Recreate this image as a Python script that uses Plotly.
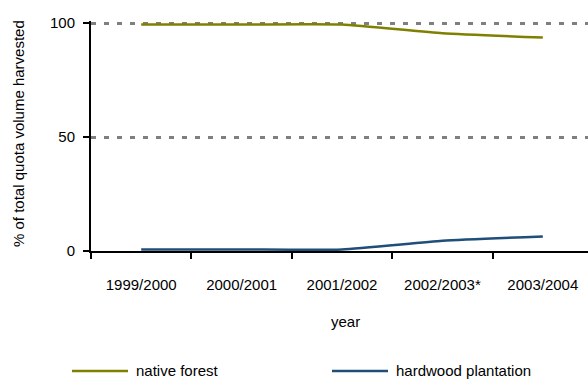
import plotly.graph_objects as go

# Harvest share by source, per season
years = ["1999/2000", "2000/2001", "2001/2002", "2002/2003*", "2003/2004"]
native_forest = [99.3, 99.3, 99.3, 95.5, 93.6]
hardwood_plantation = [0.7, 0.7, 0.7, 4.5, 6.4]
series_names = ["native forest", "hardwood plantation"]
y_ticks = [0, 50, 100]

W, H = 588, 380
L, R, T, B = 91, 0, 21, 129
PW, PH = W - L - R, H - T - B
Y_TOP = 100 * PH / (PH - 2)  # a little headroom so the 100 gridline is drawn
FONT = "Liberation Sans, Arial, sans-serif"
colors = ["#808000", "#1f4e79"]


def px_x(px):
    return (px - L) / PW


def px_y(py):
    return (H - B - py) / PH


fig = go.Figure()
for name, vals, col in zip(series_names, [native_forest, hardwood_plantation], colors):
    fig.add_trace(go.Scatter(
        x=years, y=vals, name=name, mode="lines",
        line=dict(color=col, width=2.5, shape="spline", smoothing=0.5),
        showlegend=False, cliponaxis=False,
    ))

annotations = [
    dict(text="% of total quota volume harvested", textangle=-90,
         x=px_x(18), y=px_y(134), xref="paper", yref="paper",
         xanchor="center", yanchor="middle", showarrow=False,
         font=dict(family=FONT, size=15, color="#000")),
    dict(text="year", x=px_x(345), y=px_y(321), xref="paper", yref="paper",
         xanchor="center", yanchor="middle", showarrow=False,
         font=dict(family=FONT, size=15, color="#000")),
]

# legend keys below the axis title
shapes = []
legend_pos = [(72, 128), (332, 388)]
for name, col, (x0, x1) in zip(series_names, colors, legend_pos):
    shapes.append(dict(type="line", xref="paper", yref="paper",
                       x0=px_x(x0), x1=px_x(x1), y0=px_y(371), y1=px_y(371),
                       line=dict(color=col, width=2.5)))
    annotations.append(dict(text=name, x=px_x(x1 + 6), y=px_y(370),
                            xref="paper", yref="paper", xanchor="left",
                            yanchor="middle", showarrow=False,
                            font=dict(family=FONT, size=15, color="#000")))

fig.update_layout(
    width=W, height=H,
    margin=dict(l=L, r=R, t=T, b=B, pad=0),
    paper_bgcolor="white", plot_bgcolor="white",
    font=dict(family=FONT, size=15, color="#000"),
    annotations=annotations, shapes=shapes,
    xaxis=dict(
        type="category", categoryorder="array", categoryarray=years,
        range=[-0.5, 4.45], tickson="boundaries",
        ticks="outside", ticklen=6, tickwidth=2, tickcolor="#000",
        showline=True, linecolor="#000", linewidth=2,
        showgrid=False, zeroline=False, ticklabelstandoff=19,
        tickfont=dict(family=FONT, size=15, color="#000"),
    ),
    yaxis=dict(
        range=[0, Y_TOP], tickvals=y_ticks,
        ticks="outside", ticklen=6, tickwidth=2, tickcolor="#000",
        showline=True, linecolor="#000", linewidth=2,
        showgrid=True, gridcolor="#7f7f7f", gridwidth=2.5, griddash="5px,8px",
        zeroline=False, ticklabelstandoff=5,
        tickfont=dict(family=FONT, size=15, color="#000"),
    ),
)

fig.write_html("out.html")
